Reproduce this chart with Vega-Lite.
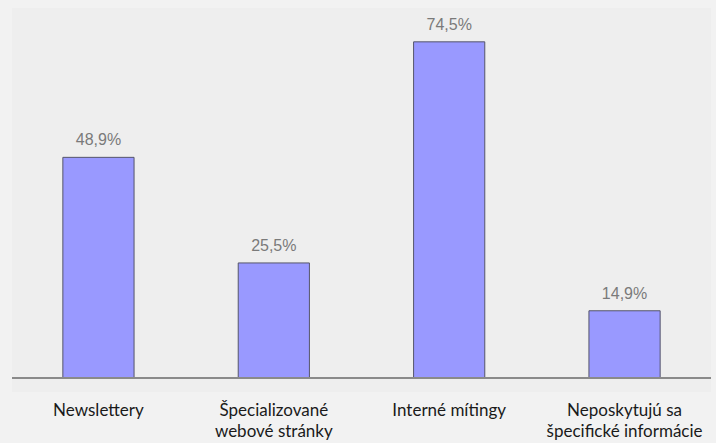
{
  "$schema": "https://vega.github.io/schema/vega-lite/v6.json",
  "width": 699,
  "height": 384,
  "autosize": {"type": "none"},
  "padding": {"left": 12, "top": 8, "right": 5, "bottom": 51},
  "background": "#f2f2f2",
  "data": {
    "values": [
      {"kanal": "Newslettery", "podiel": 48.9},
      {"kanal": "Špecializované webové stránky", "podiel": 25.5},
      {"kanal": "Interné mítingy", "podiel": 74.5},
      {"kanal": "Neposkytujú sa špecifické informácie", "podiel": 14.9}
    ]
  },
  "transform": [
    {"calculate": "replace(format(datum.podiel, '.1f'), '.', ',') + '%'", "as": "popis"}
  ],
  "encoding": {
    "x": {
      "field": "kanal",
      "type": "nominal",
      "sort": null,
      "scale": {"paddingInner": 0.594, "paddingOuter": 0.29},
      "axis": {
        "title": null,
        "domain": false,
        "ticks": false,
        "labelAngle": 0,
        "labelPadding": 10,
        "labelBaseline": "top",
        "labelFont": "Lato",
        "labelFontSize": 17,
        "labelColor": "#1a1a1a",
        "labelLineHeight": 21,
        "labelLimit": 0,
        "labelExpr": "datum.value == 'Špecializované webové stránky' ? ['Špecializované', 'webové stránky'] : datum.value == 'Neposkytujú sa špecifické informácie' ? ['Neposkytujú sa', 'špecifické informácie'] : datum.value"
      }
    }
  },
  "layer": [
    {
      "mark": {"type": "bar", "fill": "#9999ff", "stroke": "#55556a", "strokeWidth": 1},
      "encoding": {
        "y": {
          "field": "podiel",
          "type": "quantitative",
          "scale": {"domain": [-3.1, 82], "nice": false, "zero": false},
          "axis": null
        }
      }
    },
    {
      "mark": {"type": "rule", "color": "#8a8a8a", "strokeWidth": 2},
      "encoding": {
        "x": null,
        "y": {"datum": 0, "type": "quantitative"}
      }
    },
    {
      "mark": {
        "type": "text",
        "baseline": "bottom",
        "dy": -9,
        "font": "Liberation Sans",
        "fontSize": 16,
        "color": "#7a7a7a"
      },
      "encoding": {
        "y": {"field": "podiel", "type": "quantitative"},
        "text": {"field": "popis"}
      }
    }
  ],
  "config": {
    "view": {"fill": "#eeeeee", "stroke": null}
  }
}
